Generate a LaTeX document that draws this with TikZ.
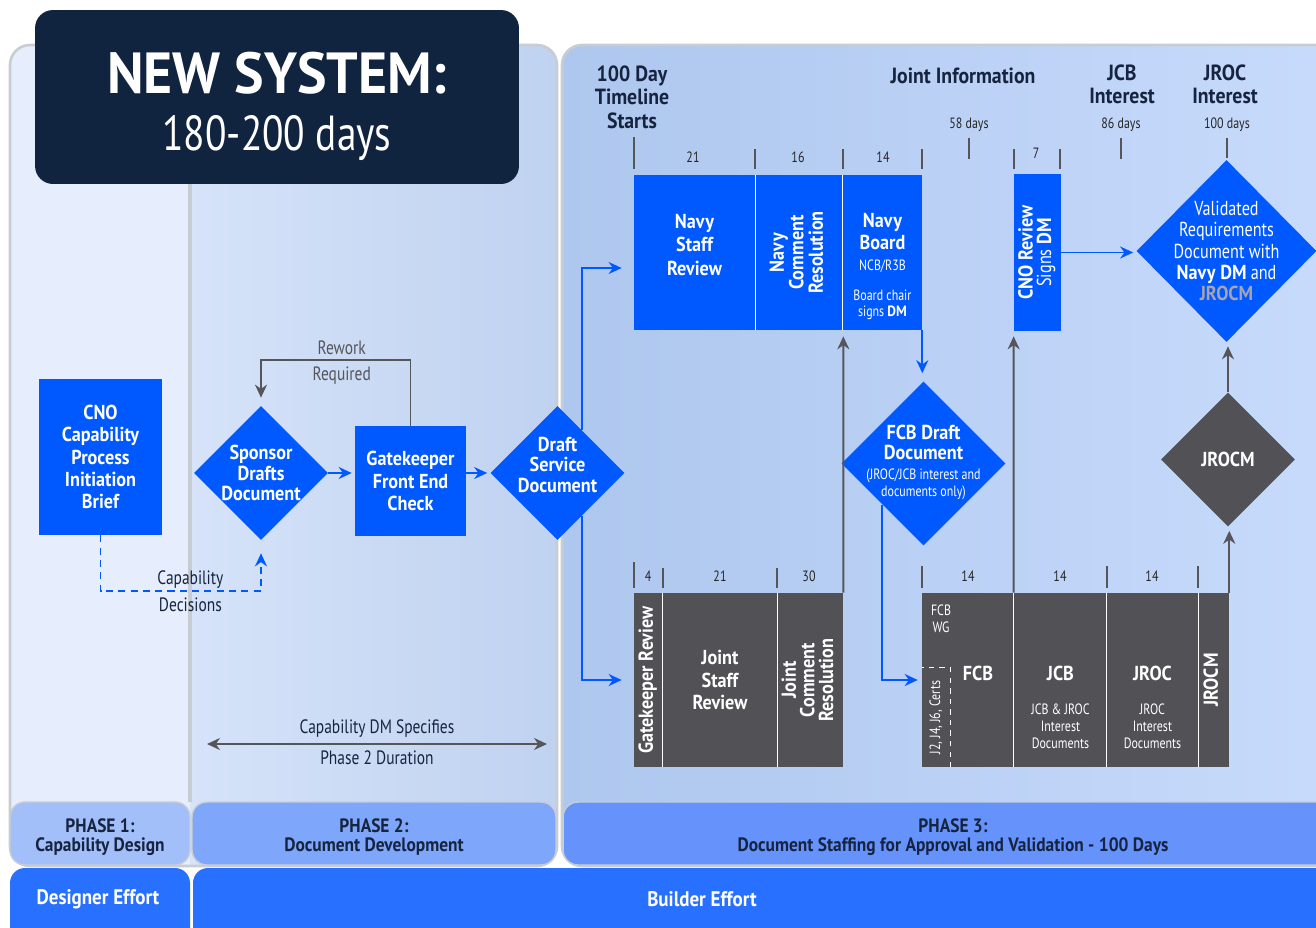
\documentclass[tikz,border=0pt]{standalone}
\usepackage{fontspec}
\setmainfont{PT Sans}[UprightFeatures={FakeStretch=0.8}, BoldFeatures={FakeStretch=0.9}]
\newfontfamily\titlefamily{PT Sans}[FakeStretch=0.96]
\usepackage{graphicx}
\usetikzlibrary{arrows.meta,shapes.geometric}

\definecolor{boxblue}{RGB}{0,88,255}
\definecolor{boxgrey}{RGB}{82,82,86}
\definecolor{titlenavy}{RGB}{16,35,63}
\definecolor{navytext}{RGB}{22,36,64}
\definecolor{arrowgrey}{RGB}{85,85,90}
\definecolor{panelline}{RGB}{200,205,212}
\definecolor{panelA}{RGB}{230,237,252}
\definecolor{panelBl}{RGB}{214,227,249}
\definecolor{panelBr}{RGB}{191,210,240}
\definecolor{panelCl}{RGB}{174,199,238}
\definecolor{panelCr}{RGB}{200,219,252}
\definecolor{phaseA}{RGB}{162,191,250}
\definecolor{phaseB}{RGB}{126,166,251}
\definecolor{phaseC}{RGB}{101,146,251}
\definecolor{effortblue}{RGB}{40,112,255}
\definecolor{jrocmtext}{RGB}{168,164,176}

\newcommand{\linesof}[1]{\begin{tabular}[t]{@{}c@{}}#1\end{tabular}}
\newcommand{\turnup}[1]{\rotatebox{90}{\linesof{#1}}}
\newcommand{\smallnote}{\mdseries\fontsize{8.5}{9.6}\selectfont}

\tikzset{%
  >={Stealth[width=2.4mm,length=2.6mm]},
  % Specifications for style of nodes:
            base/.style = {rectangle, inner sep=1pt, align=center, text=white,
                           font=\bfseries\fontsize{11.5}{12.6}\selectfont},
         bluebox/.style = {base, fill=boxblue},
         greybox/.style = {base, fill=boxgrey},
     bluediamond/.style = {base, diamond, aspect=1, inner sep=-20pt, fill=boxblue,
                           font=\bfseries\fontsize{11.5}{11.6}\selectfont},
     greydiamond/.style = {bluediamond, fill=boxgrey},
        titlebox/.style = {rectangle, rounded corners=0.36cm, fill=titlenavy,
                           minimum width=9.68cm, minimum height=3.48cm,
                           align=center, text=white, font=\fontsize{33}{32.3}\selectfont},
     headerlabel/.style = {align=center, text=navytext,
                           font=\bfseries\fontsize{12.5}{13.3}\selectfont},
        daylabel/.style = {text=black!85, font=\fontsize{8.5}{10}\selectfont},
       notelabel/.style = {align=center, font=\fontsize{11}{13}\selectfont},
        phasebar/.style = {rectangle, rounded corners=0.3cm, draw=panelline,
                           line width=0.8pt, minimum height=1.26cm,
                           text height=0.24cm, text depth=0.3cm,
                           align=center, text=navytext,
                           font=\bfseries\fontsize{11}{12}\selectfont},
     effortlabel/.style = {text=white, font=\bfseries\fontsize{12}{14}\selectfont},
  % Specifications for style of lines:
        blueline/.style = {draw=boxblue, line width=1.1pt},
        greyline/.style = {draw=arrowgrey, line width=1.1pt},
         daytick/.style = {draw=arrowgrey, line width=0.6pt},
}

\begin{document}
\begin{tikzpicture}[x=0.02cm, y=-0.02cm, node distance=1.5cm]
  \useasboundingbox (0,0) rectangle (1316,927);
  \fill[white] (0,0) rectangle (1316,927);

  % Background panels of the three phases
  \begin{scope}
    \clip[rounded corners=0.4cm] (10,45) rectangle (557,866);
    \shade[left color=panelBl, right color=panelBr] (190,45) rectangle (557,866);
    \fill[panelA] (10,45) rectangle (190,866);
  \end{scope}
  \draw[panelline, line width=1.5pt, rounded corners=0.4cm] (10,45) rectangle (557,866);
  \draw[panelline, line width=2pt] (190,45) -- (190,802);
  \shade[left color=panelCl, right color=panelCr, rounded corners=0.4cm]
    (562,45) rectangle (1345,866);
  \draw[panelline, line width=1.5pt, rounded corners=0.4cm] (562,45) rectangle (1345,866);

  % Phase bars and effort bars
  \node (phase1) [phasebar, fill=phaseA, minimum width=3.6cm] at (100,833.5)
    {\linesof{PHASE 1:\\[-1pt]Capability Design}};
  \node (phase2) [phasebar, fill=phaseB, minimum width=7.28cm] at (374,833.5)
    {\linesof{PHASE 2:\\[-1pt]Document Development}};
  \node (phase3) [phasebar, fill=phaseC, minimum width=15.6cm] at (953,833.5)
    {\linesof{PHASE 3:\\[-1pt]Document Staffing for Approval and Validation - 100 Days}};
  \fill[effortblue, rounded corners=0.3cm] (10,868) rectangle (190,950);
  \fill[effortblue, rounded corners=0.3cm] (193,868) rectangle (1345,950);
  \node (designer) [effortlabel] at (98,899) {Designer Effort};
  \node (builder)  [effortlabel] at (702,899) {Builder Effort};

  % Title
  \node (title) [titlebox, text height=0.9cm, text depth=1.04cm] at (277,97)
    {\linesof{{\titlefamily\bfseries NEW SYSTEM:}\\{\fontsize{28}{30}\selectfont 180-200 days}}};

  % Specification of nodes (position, etc.)
  \node (cnobrief)   [bluebox, minimum width=2.46cm, minimum height=3.12cm] at (100.5,457)
    {CNO\\Capability\\Process\\Initiation\\Brief};
  \node (sponsor)    [bluediamond, minimum width=2.68cm, minimum height=2.68cm] at (261,473)
    {Sponsor\\Drafts\\Document};
  \node (gatekeeper) [bluebox, minimum width=2.22cm, minimum height=2.2cm] at (410.5,481)
    {Gatekeeper\\Front End\\Check};
  \node (draft)      [bluediamond, minimum width=2.68cm, minimum height=2.68cm,
                      text height=0.5cm, text depth=1.38cm] at (557.5,473)
    {\linesof{Draft\\Service\\Document}};

  \node (navystaff)   [bluebox, minimum width=2.42cm, minimum height=3.1cm,
                       text height=0.6cm, text depth=1.58cm] at (694.5,252.5)
    {\linesof{Navy\\[1pt]Staff\\[1pt]Review}};
  \node (navycomment) [bluebox, minimum width=1.76cm, minimum height=3.1cm,
                       right of=navystaff, xshift=0.59cm]
    {\turnup{Navy\\[-1.5pt]Comment\\[-1.5pt]Resolution}};
  \node (navyboard)   [bluebox, minimum width=1.58cm, minimum height=3.1cm,
                       right of=navycomment, xshift=0.17cm,
                       text height=1cm, text depth=2cm]
    {\linesof{Navy\\Board\\[-0.5pt]{\smallnote\linesof{NCB/R3B\\[7pt]Board chair\\signs \textbf{DM}}}}};
  \node (cnoreview)   [bluebox, minimum width=0.94cm, minimum height=3.14cm] at (1037.5,252.5)
    {\turnup{CNO Review\\[-2pt]{\mdseries Signs} DM}};
  \node (validated)   [bluediamond, minimum width=3.6cm, minimum height=3.64cm,
                       font=\mdseries\fontsize{11.5}{12.2}\selectfont] at (1226.5,251)
    {Validated\\Requirements\\Document with\\\textbf{Navy DM} and\\\textbf{\textcolor{jrocmtext}{JROCM}}};
  \node (fcbdraft)    [bluediamond, minimum width=3.28cm, minimum height=3.28cm,
                       font=\bfseries\fontsize{11.5}{11.4}\selectfont] at (923.5,463.5)
    {FCB Draft\\Document\\{\smallnote\linesof{(JROC/JCB interest and\\documents only)}}};
  \node (jrocm)       [greydiamond, minimum width=2.68cm, minimum height=2.68cm] at (1228,459.5)
    {JROCM};

  \node (gkreview)     [greybox, minimum width=0.58cm, minimum height=3.48cm] at (648.5,680)
    {\turnup{Gatekeeper Review}};
  \node (jointstaff)   [greybox, minimum width=2.28cm, minimum height=3.48cm,
                        right of=gkreview, xshift=-0.07cm] {Joint\\Staff\\Review};
  \node (jointcomment) [greybox, minimum width=1.32cm, minimum height=3.48cm,
                        right of=jointstaff, xshift=0.3cm]
    {\turnup{Joint\\[-2pt]Comment\\[-2pt]Resolution}};

  \node (fcb)      [greybox, minimum width=1.84cm, minimum height=3.48cm,
                    text height=1.4cm, text depth=1.4cm] at (968,680) {\hspace*{0.4cm}FCB};
  \node (jcb)      [greybox, minimum width=1.86cm, minimum height=3.48cm,
                    right of=fcb, xshift=0.35cm, text height=1.4cm, text depth=1.4cm]
    {\linesof{JCB\\[7pt]{\smallnote\linesof{JCB \& JROC\\Interest\\Documents}}}};
  \node (jroc)     [greybox, minimum width=1.82cm, minimum height=3.48cm,
                    right of=jcb, xshift=0.34cm, text height=1.4cm, text depth=1.4cm]
    {\linesof{JROC\\[7pt]{\smallnote\linesof{JROC\\Interest\\Documents}}}};
  \node (jrocmbox) [greybox, minimum width=0.62cm, minimum height=3.48cm,
                    right of=jroc, xshift=-0.28cm] {\turnup{JROCM}};
  \node (fcbwg)    [text=white, font=\smallnote, align=center] at (941,619) {FCB\\WG};
  \node (certs)    [inner sep=0pt, minimum width=0.56cm, minimum height=1.98cm,
                    text=white, font=\smallnote] at (936,717.5)
    {\rotatebox{90}{J2, J4, J6, Certs}};
  \draw[white, dashed, line width=0.6pt] (certs.south east) |- (certs.north west);

  % white dividers between adjacent boxes
  \draw[white, line width=0.6pt] (navystaff.north east) -- (navystaff.south east);
  \draw[white, line width=0.6pt] (navyboard.north west) -- (navyboard.south west);
  \draw[white, line width=0.6pt] (jointstaff.north west) -- (jointstaff.south west);
  \draw[white, line width=0.6pt] (jointstaff.north east) -- (jointstaff.south east);
  \draw[white, line width=0.6pt] (jcb.north west) -- (jcb.south west);
  \draw[white, line width=0.6pt] (jroc.north west) -- (jroc.south west);
  \draw[white, line width=0.6pt] (jroc.north east) -- (jroc.south east);

  % Timeline headers, ticks and day counts
  \node (timeline)     [headerlabel] at (632,97)   {100 Day\\Timeline\\Starts};
  \node (jointinfo)    [headerlabel] at (963,76)   {Joint Information};
  \node (jcbinterest)  [headerlabel] at (1122,84)  {JCB\\Interest};
  \node (jrocinterest) [headerlabel] at (1225,84)  {JROC\\Interest};
  \node (days58)       [daylabel]    at (969,125)  {58 days};
  \node (days86)       [daylabel]    at (1121,125) {86 days};
  \node (days100)      [daylabel]    at (1227,125) {100 days};

  \draw[daytick] (634,137) -- (634,169);
  \draw[daytick] (755,149) -- (755,169);
  \draw[daytick] (843,149) -- (843,169);
  \draw[daytick] (922,149) -- (922,169);
  \draw[daytick] (969,138) -- (969,159);
  \draw[daytick] (1014,149) -- (1014,169);
  \draw[daytick] (1060,149) -- (1060,169);
  \draw[daytick] (1121,138) -- (1121,159);
  \draw[daytick] (1227,138) -- (1227,158);
  \node (navystaffdays)   [daylabel] at (693,157)  {21};
  \node (navycommentdays) [daylabel] at (798,157)  {16};
  \node (navyboarddays)   [daylabel] at (883,157)  {14};
  \node (cnoreviewdays)   [daylabel] at (1036,153) {7};

  \draw[daytick] (634,562) -- (634,588);
  \draw[daytick] (663,568) -- (663,588);
  \draw[daytick] (777,568) -- (777,588);
  \draw[daytick] (922,566) -- (922,588);
  \draw[daytick] (1107,566) -- (1107,588);
  \draw[daytick] (1198,566) -- (1198,588);
  \node (gkreviewdays)     [daylabel] at (648,576)  {4};
  \node (jointstaffdays)   [daylabel] at (720,576)  {21};
  \node (jointcommentdays) [daylabel] at (809,576)  {30};
  \node (fcbdays)          [daylabel] at (968,576)  {14};
  \node (jcbdays)          [daylabel] at (1060,576) {14};
  \node (jrocdays)         [daylabel] at (1152,576) {14};

  % Specification of lines between nodes specified above
  \draw[->, greyline, shorten >=0.16cm] (gatekeeper.north) -- ++(0,-66)
    -| node[pos=0.23, above=-1pt, notelabel, text=arrowgrey] {Rework}
       node[pos=0.23, below, notelabel, text=arrowgrey] {Required} (sponsor.north);
  \draw[->, blueline, dash pattern=on 4pt off 3pt, shorten >=0.26cm]
    (cnobrief.south) -- ++(0,56)
    -| node[pos=0.28, above=-2pt, notelabel, text=navytext] {Capability}
       node[pos=0.28, below, notelabel, text=navytext] {Decisions} (sponsor.south);
  \draw[->, blueline, shorten >=0.06cm] (sponsor.east) -- (sponsor.east -| gatekeeper.west);
  \draw[->, blueline, shorten >=0.06cm] (gatekeeper.east |- draft.west) -- (draft.west);
  \draw[->, blueline, shorten >=0.24cm] (draft.60) |- ([yshift=-0.31cm]navystaff.west);
  \draw[->, blueline, shorten >=0.24cm] (draft.-60) |- (gkreview.west);
  \draw[->, blueline, shorten >=0.16cm] (navyboard.south east)
    -- (navyboard.south east |- fcbdraft.north);
  \draw[->, blueline, shorten >=0.08cm] (fcbdraft.south west) |- (fcb.west);
  \draw[->, blueline, shorten >=0.06cm] (cnoreview.east) -- (cnoreview.east -| validated.west);
  \draw[->, greyline, shorten >=0.12cm] (jointcomment.north east) -- (navycomment.south east);
  \draw[->, greyline, shorten >=0.1cm] (jcb.north west) -- (cnoreview.south west);
  \draw[->, greyline, shorten >=0.08cm] (jrocmbox.north east) -- (jrocmbox.north east |- jrocm.south);
  \draw[->, greyline, shorten >=0.08cm] (jrocm.north) -- (jrocm.north |- validated.south);

  \coordinate (durleft)  at (207,744);
  \coordinate (durright) at (547,744);
  \draw[<->, greyline] (durleft) -- node[above, notelabel, text=navytext] {Capability DM Specifies}
    node[below, notelabel, text=navytext] {Phase 2 Duration} (durright);
\end{tikzpicture}
\end{document}
